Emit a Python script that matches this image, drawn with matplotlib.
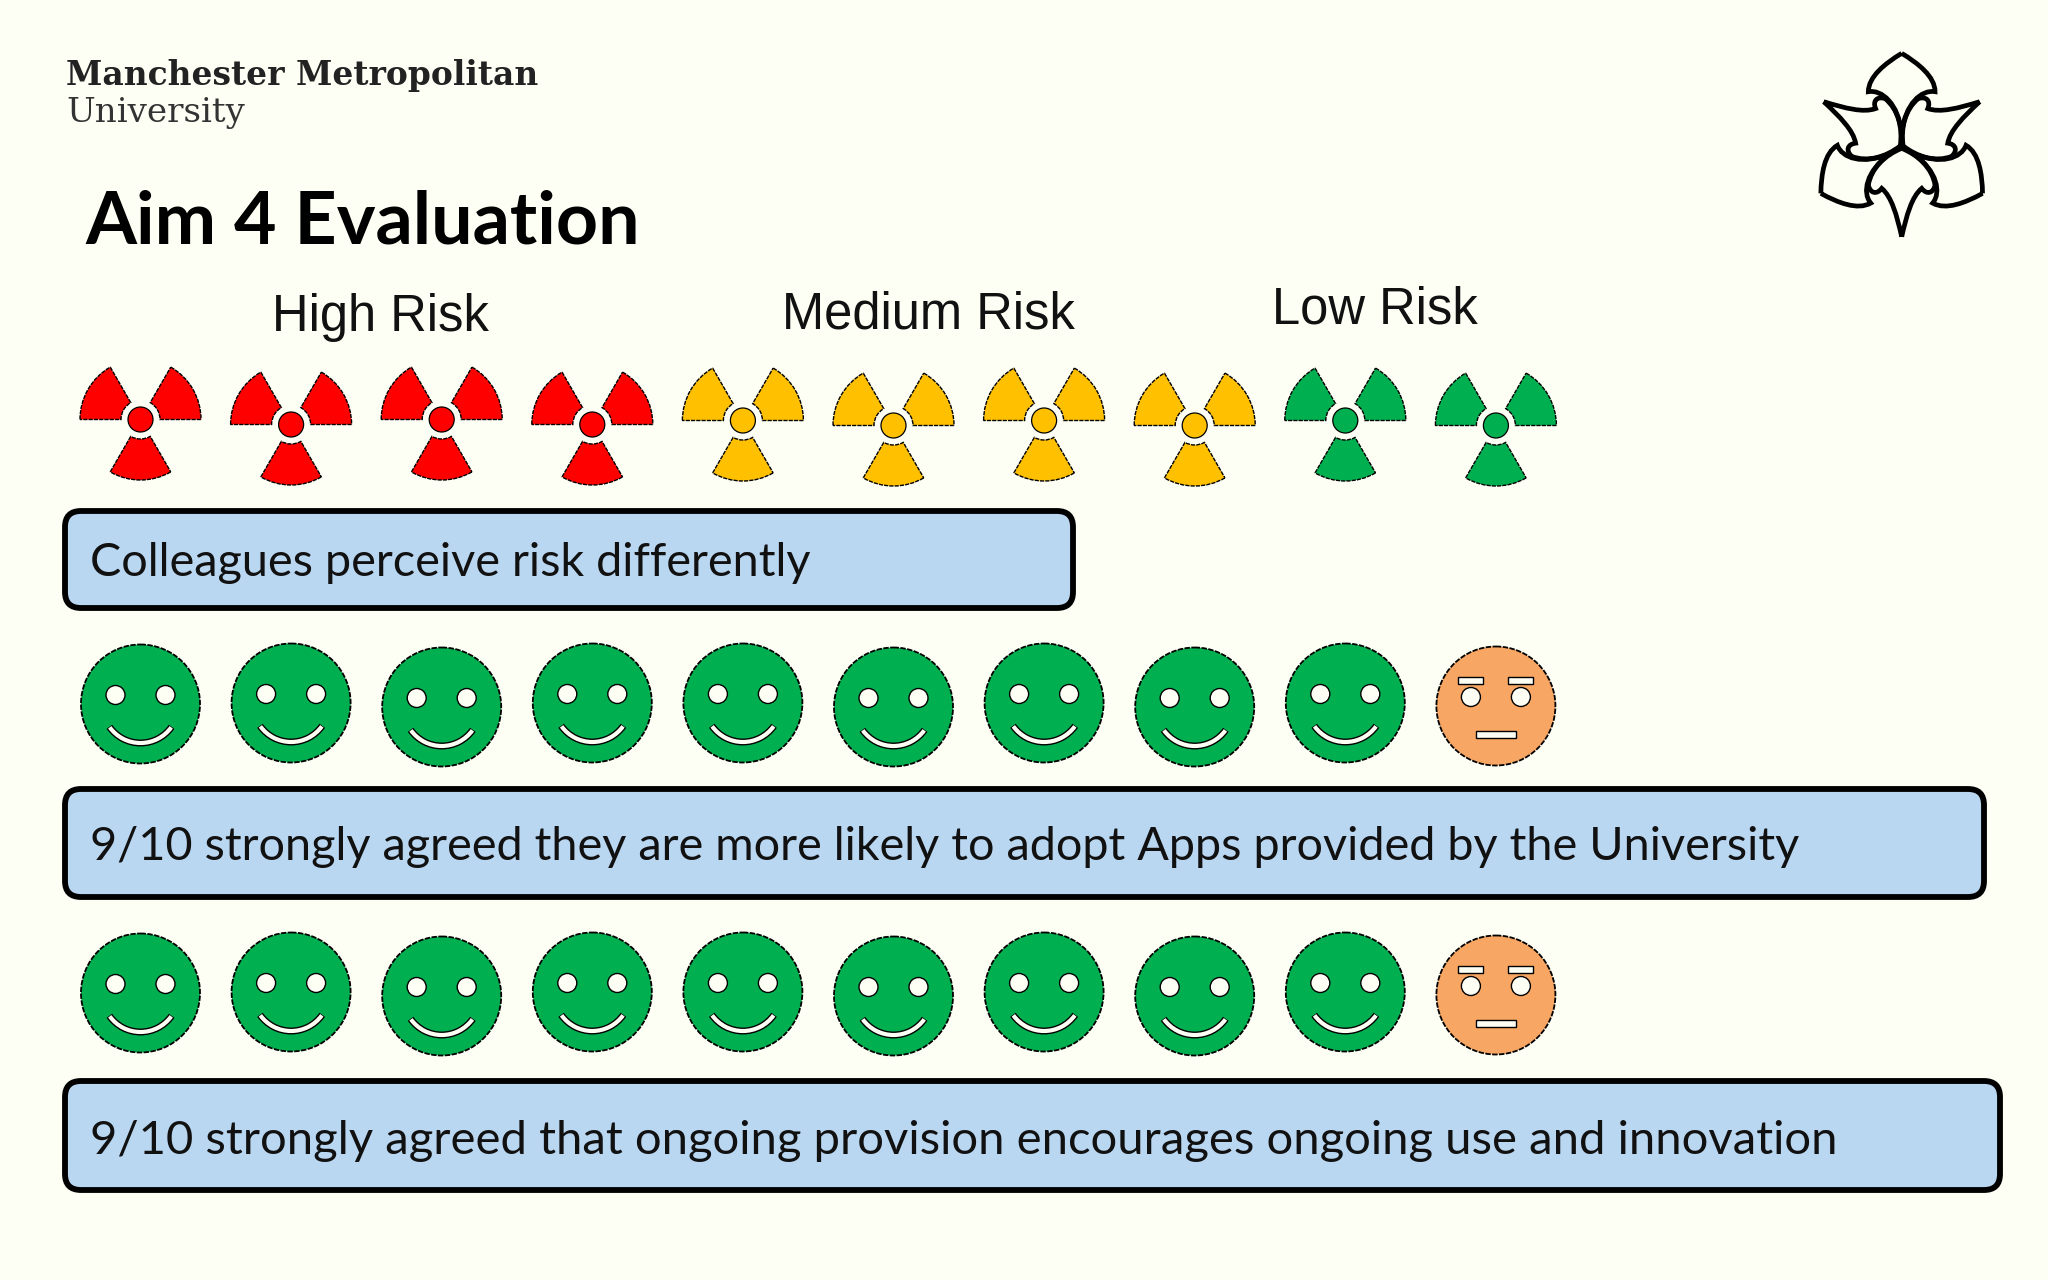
import numpy as np
import matplotlib
matplotlib.use("Agg")
import matplotlib.pyplot as plt
from matplotlib.patches import Wedge, Circle, Arc, FancyBboxPatch, Rectangle, PathPatch
from matplotlib.path import Path

# Chart content
uni_name = "Manchester Metropolitan"
uni_sub = "University"
title = "Aim 4 Evaluation"

risk_labels = ["High Risk", "Medium Risk", "Low Risk"]
risk_counts = [4, 4, 2]
risk_colors = ["#FF0000", "#FFC000", "#00B050"]

adopt_counts = [9, 1]      # agreed, neutral
provision_counts = [9, 1]

box_texts = ["Colleagues perceive risk differently",
             "9/10 strongly agreed they are more likely to adopt Apps provided by the University",
             "9/10 strongly agreed that ongoing provision encourages ongoing use and innovation"]

# Layout, in pixels
bg = "#FEFFF4"
first_x = 140.5
step_x = 150.6
risk_y = 419.5
adopt_y = 704
provision_y = 993
# The icons in the slide are not quite on one line
face_jitter = [0, -1, 3, -1, -1, 3, -1, 3, -1, 2]

fig = plt.figure(figsize=(20.48, 12.8), dpi=100, facecolor=bg)
ax = fig.add_axes([0, 0, 1, 1])
ax.set_xlim(0, 2048)
ax.set_ylim(1280, 0)
ax.set_aspect("equal")
ax.axis("off")

edge_dash = (0, (3, 0.8))


def trefoil(x, y, color):
    for a in [180, 300, 60]:
        ax.add_patch(Wedge((x, y), 60.5, a, a + 60, width=41, fc=color, ec="black", lw=1.0, ls=edge_dash))
    ax.add_patch(Circle((x, y), 12.5, fc=color, ec="black", lw=0.9))


def face(x, y, happy):
    color = "#00B050" if happy else "#F8A663"
    ax.add_patch(Circle((x, y), 59.5, fc=color, ec="black", lw=1.3, ls=edge_dash))
    for s in [-1, 1]:
        ax.add_patch(Circle((x + s * 25, y - 9), 9.5, fc=bg, ec="black", lw=1.0))
    if happy:
        ax.add_patch(Arc((x, y + 1), 76, 76, theta1=35, theta2=145, color="black", lw=5))
        ax.add_patch(Arc((x, y + 1), 76, 76, theta1=36, theta2=144, color=bg, lw=3))
    else:
        for s in [-1, 1]:
            ax.add_patch(Rectangle((x + s * 25 - 12.5, y - 29), 25, 7, fc=bg, ec="black", lw=1.0))
        ax.add_patch(Rectangle((x - 20, y + 25), 40, 7, fc=bg, ec="black", lw=1.0))


# Trefoil row, colour taken from the risk counts
colors = np.repeat(risk_colors, risk_counts)
for i, c in enumerate(colors):
    trefoil(first_x + i * step_x, risk_y + (i % 2) * 5 + (1 if i >= 4 else 0), c)

for row_y, counts in [(adopt_y, adopt_counts), (provision_y, provision_counts)]:
    flags = [True] * counts[0] + [False] * counts[1]
    for i, happy in enumerate(flags):
        face(first_x + i * step_x, row_y + face_jitter[i], happy)

# Risk labels
for lab, x, y in zip(risk_labels, [380, 928, 1375], [318, 315, 310]):
    ax.text(x, y, lab, ha="center", va="center", fontsize=36.5, family="Liberation Sans", color="#111111")

# Text boxes
boxes = [(65, 511, 1008, 97), (65, 789, 1919, 108), (65, 1081, 1935, 109)]
box_fonts = [33.7, 33.7, 33.9]
box_shift = [3, 4, 5]
for (x, y, w, h), t, fs, dy in zip(boxes, box_texts, box_fonts, box_shift):
    ax.add_patch(FancyBboxPatch((x + 14, y + 14), w - 28, h - 28, boxstyle="round,pad=14,rounding_size=16",
                                fc="#BAD7F2", ec="black", lw=4.2, mutation_aspect=1))
    ax.text(90, y + h / 2 + dy, t, ha="left", va="center", fontsize=fs, family="Lato", color="#111111")

# Header
ax.text(66, 75, uni_name, ha="left", va="center", fontsize=23.7, family="DejaVu Serif", weight="bold", color="#222222")
ax.text(66, 113, uni_sub, ha="left", va="center", fontsize=24.6, family="DejaVu Serif", color="#333333")
ax.text(85, 223, title, ha="left", va="center", fontsize=52.9, family="Lato", weight="bold", color="black")

# University logo, two petal outlines turned three times about the centre
logo_c = np.array([1901.7, 146.7])
logo_scale = 1 / 3
round_petal = [(0, 280), (50, 250), (100, 210), (100, 165),
               (60, 172), (10, 130), (0, 40),
               (-10, 130), (-60, 172), (-100, 165),
               (-100, 210), (-50, 250), (0, 280)]
sharp_petal = [(0, -270), (15, -205), (30, -150), (60, -125),
               (75, -145), (95, -140), (100, -115),
               (92, -65), (50, -25), (0, -5),
               (-50, -25), (-92, -65), (-100, -115),
               (-95, -140), (-75, -145), (-60, -125),
               (-30, -150), (-15, -205), (0, -270)]
for petal in [round_petal, sharp_petal]:
    pts = np.array(petal, dtype=float)
    codes = [Path.MOVETO] + [Path.CURVE4] * (len(pts) - 1)
    for a in np.deg2rad([0, 120, 240]):
        rot = np.array([[np.cos(a), -np.sin(a)], [np.sin(a), np.cos(a)]])
        p = pts.dot(rot.T) * logo_scale * np.array([1, -1]) + logo_c
        ax.add_patch(PathPatch(Path(p, codes), fc="none", ec="black", lw=3.4, joinstyle="miter"))

fig.savefig("out.png", dpi=100, facecolor=bg)
